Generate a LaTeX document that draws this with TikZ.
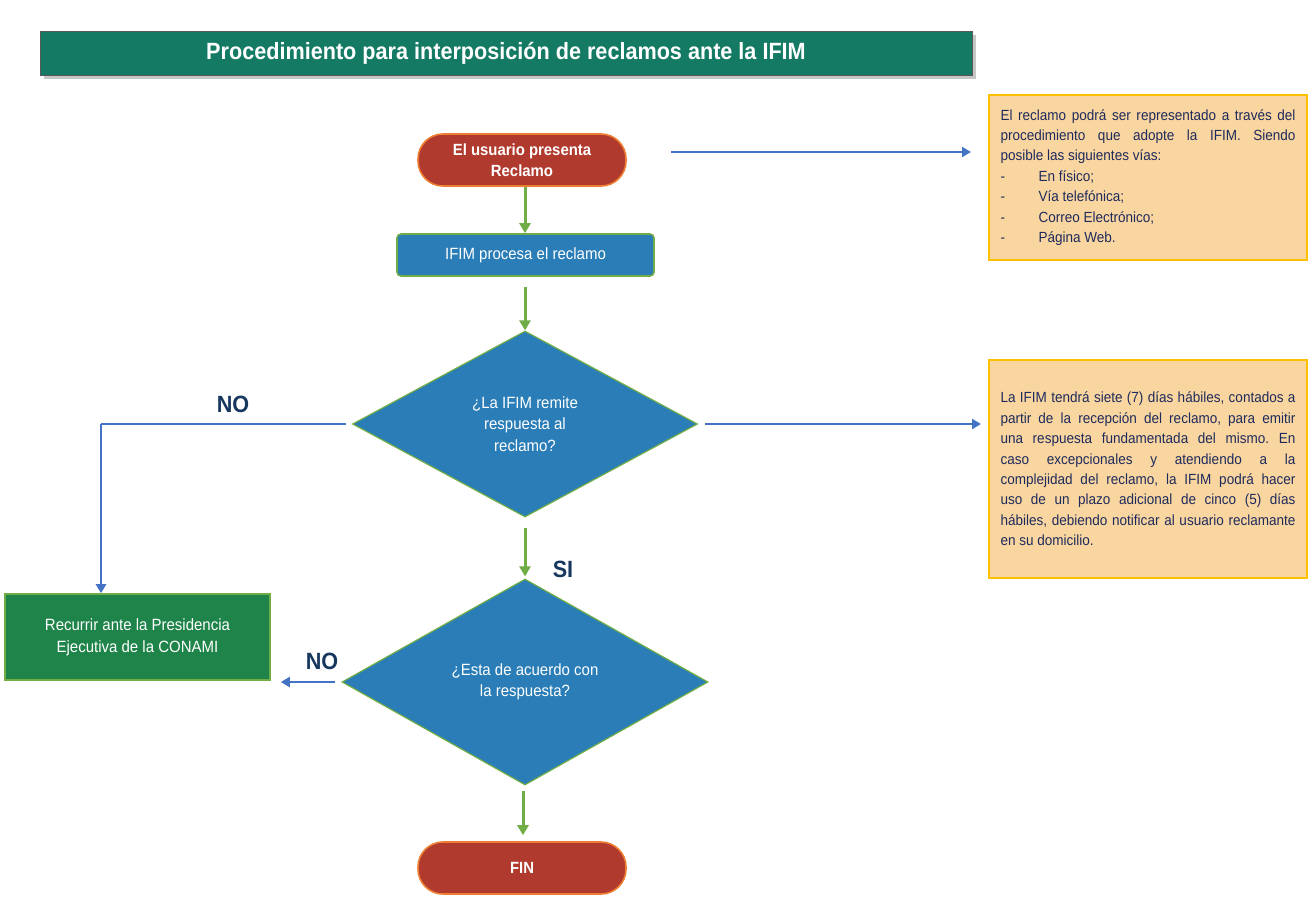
\documentclass[tikz,border=0pt]{standalone}
\usepackage{fontspec}
\setmainfont{Liberation Sans}
\newfontfamily\narrow[FakeStretch=0.92]{Liberation Sans}
\usetikzlibrary{shapes.geometric,arrows.meta,shadows}
\frenchspacing
\definecolor{titlegreen}{HTML}{147A64}
\definecolor{termred}{HTML}{B03A2E}
\definecolor{termborder}{HTML}{ED7D31}
\definecolor{nodeblue}{HTML}{2A7DB6}
\definecolor{nodeborder}{HTML}{70AD47}
\definecolor{recgreen}{HTML}{1F8449}
\definecolor{notefill}{HTML}{F9D6A0}
\definecolor{noteborder}{HTML}{FFC000}
\definecolor{notetext}{HTML}{1F2A5C}
\definecolor{arrowblue}{HTML}{4472C4}
\definecolor{arrowgreen}{HTML}{70AD47}
\definecolor{labelnavy}{HTML}{17375E}
\begin{document}
\begin{tikzpicture}[x=1pt,y=-1pt,
  titlebar/.style={draw=gray!70!black, line width=0.8pt, fill=titlegreen, minimum width=932pt, minimum height=44pt, inner sep=0pt, text=white, font=\narrow\bfseries\fontsize{23.5}{27}\selectfont, drop shadow={shadow xshift=4pt, shadow yshift=-4pt, opacity=0.45, fill=gray}},
  term/.style={draw=termborder, line width=1.6pt, fill=termred, rounded corners=25pt, minimum width=208pt, minimum height=52pt, inner sep=0pt, text=white, align=center, font=\narrow\bfseries\fontsize{16.2}{21}\selectfont},
  proc/.style={draw=nodeborder, line width=1.6pt, fill=nodeblue, rounded corners=4pt, minimum width=257pt, minimum height=42pt, inner sep=0pt, text=white, align=center, font=\narrow\fontsize{16.3}{21.5}\selectfont},
  dec/.style={diamond, draw=nodeborder, line width=1.2pt, fill=nodeblue, minimum width=345pt, minimum height=186pt, inner sep=0pt, text=white, align=center, font=\narrow\fontsize{16.3}{21.5}\selectfont},
  recbox/.style={draw=nodeborder, line width=1.6pt, fill=recgreen, minimum width=265pt, minimum height=86pt, inner sep=0pt, text=white, align=center, font=\narrow\fontsize{16.3}{22}\selectfont},
  note/.style={draw=noteborder, line width=2pt, fill=notefill, minimum width=318pt, inner sep=0pt, text width=295pt, align=justify, text=notetext, font=\narrow\fontsize{14.7}{20.4}\selectfont},
  lbl/.style={text=labelnavy, font=\narrow\bfseries\fontsize{23.5}{26}\selectfont, inner sep=0pt},
  garrow/.style={draw=arrowgreen, line width=3pt, -{Triangle[width=11pt,length=10pt]}},
  barrow/.style={draw=arrowblue, line width=2.8pt, -{Triangle[width=10pt,length=9pt]}},
  bline/.style={draw=arrowblue, line width=2.8pt}
]
\useasboundingbox (0,0) rectangle (1316,900);

\node[titlebar] (title) at (506,53) {Procedimiento para interposición de reclamos ante la IFIM};

\node[term] (start) at (522,160) {El usuario presenta\\Reclamo};
\node[proc] (proc) at (525.5,255) {IFIM procesa el reclamo};
\node[dec] (d1) at (525,424) {¿La IFIM remite\\respuesta al\\reclamo?};
\node[dec, minimum width=366pt, minimum height=206pt] (d2) at (525,682) {¿Esta de acuerdo con\\la respuesta?};
\node[term] (fin) at (522,868) {FIN};
\node[recbox] (rec) at (137.5,637) {Recurrir ante la Presidencia\\Ejecutiva de la CONAMI};

\node[note, minimum height=165pt] (n1) at (1148,177.5) {\parindent=0pt El reclamo podrá ser representado a través del\linebreak procedimiento que adopte la IFIM. Siendo\linebreak posible las siguientes vías:\par
\makebox[38pt][l]{-}En físico;\par
\makebox[38pt][l]{-}Vía telefónica;\par
\makebox[38pt][l]{-}Correo Electrónico;\par
\makebox[38pt][l]{-}Página Web.};

\node[note, minimum height=218pt] (n2) at (1148,469) {\parindent=0pt La IFIM tendrá siete (7) días hábiles, contados a\linebreak partir de la recepción del reclamo, para emitir\linebreak una respuesta fundamentada del mismo. En\linebreak caso excepcionales y atendiendo a la\linebreak complejidad del reclamo, la IFIM podrá hacer\linebreak uso de un plazo adicional de cinco (5) días\linebreak hábiles, debiendo notificar al usuario reclamante\linebreak en su domicilio.};

\node[lbl] (no1) at (233,404) {NO};
\node[lbl] (si) at (563,569) {SI};
\node[lbl] (no2) at (322,661) {NO};

\draw[garrow] (start.south -| 525,0) -- (proc.north -| 525,0);
\draw[garrow, shorten <=10pt] (proc.south -| 525,0) -- (d1.north);
\draw[garrow, shorten <=10pt, shorten >=2pt] (d1.south) -- (d2.north);
\draw[garrow, shorten <=5pt, shorten >=6pt] (d2.south -| 523,0) -- (fin.north -| 523,0);

\draw[barrow, shorten <=44pt, shorten >=17pt] (start.east |- 0,152) -- (n1.west |- 0,152);
\draw[barrow, shorten <=7pt, shorten >=7pt] (d1.east) -- (n2.west |- d1.east);

\coordinate (k1) at (101,424);
\draw[bline, shorten <=6pt] (d1.west) -- (k1);
\draw[barrow] (k1) -- (rec.north -| k1);
\draw[barrow, shorten <=6pt, shorten >=10pt] (d2.west) -- (rec.east |- d2.west);
\end{tikzpicture}
\end{document}
